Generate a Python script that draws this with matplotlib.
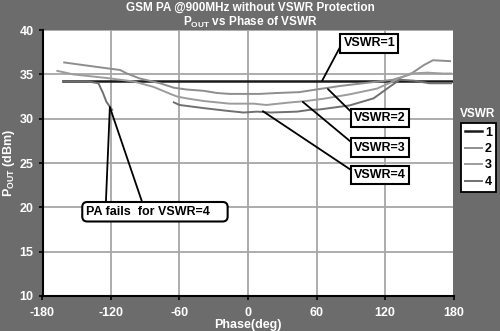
import matplotlib
matplotlib.use("Agg")
import matplotlib.pyplot as plt
import numpy as np

plt.rcParams['font.family'] = ['Liberation Sans', 'DejaVu Sans']
plt.rcParams['font.weight'] = 'bold'
plt.rcParams['mathtext.fontset'] = 'custom'
plt.rcParams['mathtext.rm'] = 'Liberation Sans:bold'
plt.rcParams['mathtext.bf'] = 'Liberation Sans:bold'
plt.rcParams['axes.unicode_minus'] = False

# data
phase1 = [-162, 180]
pout1 = [34.3, 34.3]

phase2 = [-161, -144, -124, -112, -106, -95, -77, -65, -54, -39, -27, -16, -1, 10, 25, 45,
          60, 81, 104, 127, 142, 154, 162, 177]
pout2 = [36.35, 36.05, 35.7, 35.5, 35.1, 34.55, 34.0, 33.5, 33.3, 33.15, 32.9, 32.8, 32.8, 32.8,
         32.9, 33.0, 33.3, 33.7, 34.05, 34.4, 35.0, 36.05, 36.6, 36.5]

phase3 = [-167, -153, -124, -100, -83, -68, -62, -54, -39, -16, 5, 16, 34, 51, 66, 89, 113,
          127, 142, 157, 171, 178]
pout3 = [35.4, 35.0, 34.6, 34.2, 33.6, 32.8, 32.5, 32.3, 32.0, 31.7, 31.7, 31.55, 31.8, 32.0,
         32.25, 32.75, 33.4, 34.2, 35.1, 35.2, 35.1, 35.1]

# VSWR=4: PA fails near -120 deg, no data until about -65 deg
phase4 = [-162, -140, -131, -127, -124, -119, -90, -65, -60, -39, -19, -4, 8, 20, 43, 54, 63,
          89, 110, 124, 133, 145, 159, 178]
pout4 = [34.2, 34.2, 34.0, 32.9, 31.9, 31.0, np.nan, 31.85, 31.55, 31.2, 30.9, 30.7, 30.8,
         30.7, 30.8, 31.0, 31.05, 31.5, 32.3, 33.6, 34.4, 34.3, 34.0, 34.0]

labels = ['1', '2', '3', '4']
colors = ['#1a1a1a', '#8e8e8e', '#9c9c9c', '#707070']

bg = '#6c6c6c'
fig = plt.figure(figsize=(5, 3.31), dpi=100, facecolor=bg)
ax = fig.add_axes([0.085, 0.106, 0.822, 0.803])
ax.set_facecolor('white')

lines = []
for ph, p, c, lab in zip([phase1, phase2, phase3, phase4], [pout1, pout2, pout3, pout4],
                         colors, labels):
    lw = 1.8 if lab == '1' else 1.4
    ln, = ax.plot(ph, p, color=c, lw=lw, label=lab, zorder=3)
    lines.append(ln)

ax.set_xlim(-180, 180)
ax.set_ylim(10, 40)
ax.set_xticks(np.arange(-180, 181, 60))
ax.set_yticks(np.arange(10, 41, 5))
ax.grid(True, color='#a6a6a6', lw=1.3)
ax.set_axisbelow(True)
for s in ['top', 'right']:
    ax.spines[s].set_visible(False)
for s in ['left', 'bottom']:
    ax.spines[s].set_color('black')
    ax.spines[s].set_linewidth(1.5)
ax.tick_params(colors='black', labelcolor='white', labelsize=9, length=3, width=1.2)
ax.tick_params(axis='x', pad=5)
for t in ax.get_xticklabels() + ax.get_yticklabels():
    t.set_fontweight('bold')

ax.set_xlabel('Phase(deg)', color='white', fontsize=9, fontweight='bold', labelpad=0)
ax.set_ylabel(r'P$_{\mathrm{OUT}}$ (dBm)', color='white', fontsize=9, fontweight='bold',
              labelpad=2)

fig.text(0.5, 0.975, 'GSM PA @900MHz without VSWR Protection', color='white',
         fontsize=8.5, fontweight='bold', ha='center', va='center')
fig.text(0.5, 0.933, r'P$_{\mathrm{OUT}}$ vs Phase of VSWR', color='white',
         fontsize=8.5, fontweight='bold', ha='center', va='center')

box = dict(boxstyle='square,pad=0.25', fc='white', ec='black', lw=1.5)
arr = dict(arrowstyle='-', color='black', lw=1.3, shrinkA=0, shrinkB=0)

ax.annotate('VSWR=1', xy=(65, 34.3), xytext=(106.4, 38.5), fontsize=9, fontweight='bold',
            ha='center', va='center', bbox=box,
            arrowprops=dict(arr, relpos=(0, 0.75)), zorder=5, annotation_clip=False)
ax.annotate('VSWR=2', xy=(70, 33.35), xytext=(115.6, 30.1), fontsize=9, fontweight='bold',
            ha='center', va='center', bbox=box,
            arrowprops=dict(arr, relpos=(0, 0.75)), zorder=5)
ax.annotate('VSWR=3', xy=(48, 31.9), xytext=(115.6, 26.75), fontsize=9, fontweight='bold',
            ha='center', va='center', bbox=box,
            arrowprops=dict(arr, relpos=(0, 0.75)), zorder=5)
ax.annotate('VSWR=4', xy=(13, 30.85), xytext=(115.6, 23.65), fontsize=9, fontweight='bold',
            ha='center', va='center', bbox=box,
            arrowprops=dict(arr, relpos=(0, 0.75)), zorder=5)

# callout for the failing PA
ax.annotate('', xy=(-121, 31.3), xytext=(-124.5, 20.5), arrowprops=arr, zorder=4)
ax.annotate('', xy=(-121, 31.3), xytext=(-92.5, 20.5), arrowprops=arr, zorder=4)
ax.text(-81.5, 19.5, 'PA fails  for VSWR=4    ', fontsize=9, fontweight='bold',
        ha='center', va='center', zorder=5,
        bbox=dict(boxstyle='round,pad=0.3,rounding_size=0.4', fc='white', ec='black', lw=1.5))

leg = fig.legend(handles=lines, labels=labels, loc='upper left',
                 bbox_to_anchor=(0.922, 1 - 123 / 331), frameon=True, fancybox=False,
                 framealpha=1, facecolor='white',
                 fontsize=9, handlelength=1.4, handletextpad=0.2, labelspacing=0.35,
                 borderpad=0.3, borderaxespad=0)
leg.get_frame().set_edgecolor('black')
leg.get_frame().set_linewidth(1.3)
for t in leg.get_texts():
    t.set_fontweight('bold')
fig.text(0.956, 1 - 114 / 331, 'VSWR', color='white', fontsize=8.5, fontweight='bold',
         ha='center', va='center')

fig.savefig('out.png', dpi=100, facecolor=bg)
